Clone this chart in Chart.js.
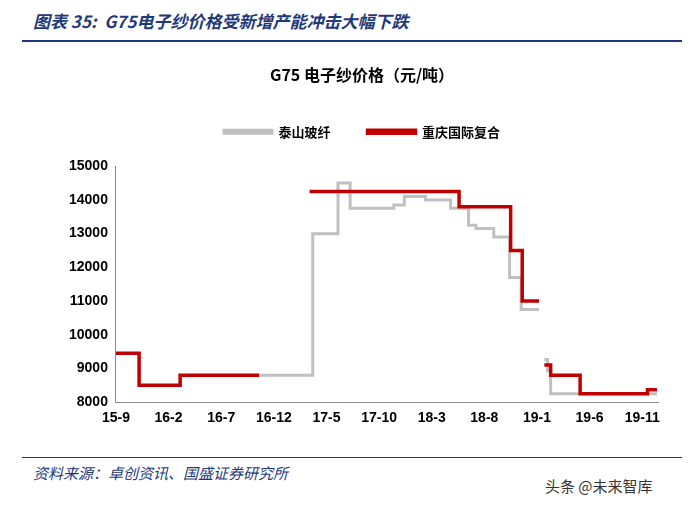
<!DOCTYPE html>
<html><head><meta charset="utf-8">
<script src="https://cdn.jsdelivr.net/npm/chart.js@4"></script>
<style>
body{margin:0;width:697px;height:507px;background:#fff;position:relative;overflow:hidden;font-family:"Noto Sans CJK SC",sans-serif;}
#hdr{position:absolute;left:33px;top:8px;font-size:17px;font-style:italic;color:#1f3a7a;font-weight:bold;}
#hl{position:absolute;left:22px;top:40px;width:660px;height:2px;background:#1f3a7a;}
#fl{position:absolute;left:22px;top:457px;width:660px;height:1px;background:#1f3a7a;}
#ftr{position:absolute;left:33px;top:462px;font-size:15px;font-style:italic;color:#1f3a7a;}
#wm{position:absolute;left:545px;top:475px;font-size:15px;color:#333;}
#c{position:absolute;left:50px;top:57px;}
</style></head><body>
<div id="hdr">图表 35:&nbsp; G75电子纱价格受新增产能冲击大幅下跌</div>
<div id="hl"></div>
<canvas id="c" width="620" height="373"></canvas>
<div id="fl"></div>
<div id="ftr">资料来源：卓创资讯、国盛证券研究所</div>
<div id="wm">头条 @未来智库</div>
<script>
const tickLabels=['15-9','16-2','16-7','16-12','17-5','17-10','18-3','18-8','19-1','19-6','19-11'];
const taishanX=[13.6,18.7,21.1,22.25,26.4,27.4,29.4,31.8,33.5,34.2,35.9,37.4,38.5,40.2,40.5,40.7,41.0,41.3,51.4];
const taishanY=[8800,13000,14500,13750,13850,14100,14000,13750,13250,13150,12900,11700,10750,10750,null,9270,8930,8250,8250];
const cqX=[0,2.2,6.1,13.6,16,18.4,32.6,37.5,38.6,40.2,40.5,40.7,41.3,44.1,50.5,51.4];
const cqY=[9450,8500,8800,8800,null,14250,13800,12500,11000,11000,null,9100,8800,8250,8370,8370];
const pts=(xs,ys)=>xs.map((x,i)=>({x:x,y:ys[i]}));
const lgpad={id:'lgpad',beforeInit(chart){const l=chart.legend;const f=l.fit;l.fit=function(){f.call(this);this.height+=18;};}};
new Chart(document.getElementById('c'),{type:'line',plugins:[lgpad],
data:{datasets:[
{label:'泰山玻纤',order:2,data:pts(taishanX,taishanY),borderColor:'#c0c0c0',backgroundColor:'#c0c0c0',borderWidth:3,stepped:true,pointRadius:0,spanGaps:false},
{label:'重庆国际复合',order:1,data:pts(cqX,cqY),borderColor:'#c00000',backgroundColor:'#c00000',borderWidth:3.5,stepped:true,pointRadius:0,spanGaps:false}
]},
options:{responsive:false,animation:false,layout:{padding:{right:12,left:16}},
plugins:{title:{display:true,text:'G75 电子纱价格（元/吨）',font:{size:16,weight:'bold',family:'Noto Sans CJK SC'},color:'#000',padding:{top:8,bottom:4}},
legend:{labels:{sort:(a,b)=>a.datasetIndex-b.datasetIndex,boxWidth:48,boxHeight:3,font:{size:13,weight:'bold',family:'Noto Sans CJK SC'},color:'#000',padding:37},},tooltip:{enabled:false}},
scales:{
x:{type:'linear',min:0,max:51.5,grid:{display:false,tickLength:5},border:{color:'#888'},
 afterBuildTicks:(s)=>{s.ticks=tickLabels.map((_,i)=>({value:i*5}));},
 ticks:{autoSkip:false,maxRotation:0,font:{size:14,weight:'bold',family:'Liberation Sans'},color:'#000',callback:(v)=>tickLabels[Math.round(v/5)]}},
y:{min:8000,max:15000,grid:{display:false,tickLength:5},border:{color:'#888'},
 ticks:{stepSize:1000,font:{size:14,weight:'bold',family:'Liberation Sans'},color:'#000',callback:(v)=>String(v)}}
}}});
</script></body></html>
